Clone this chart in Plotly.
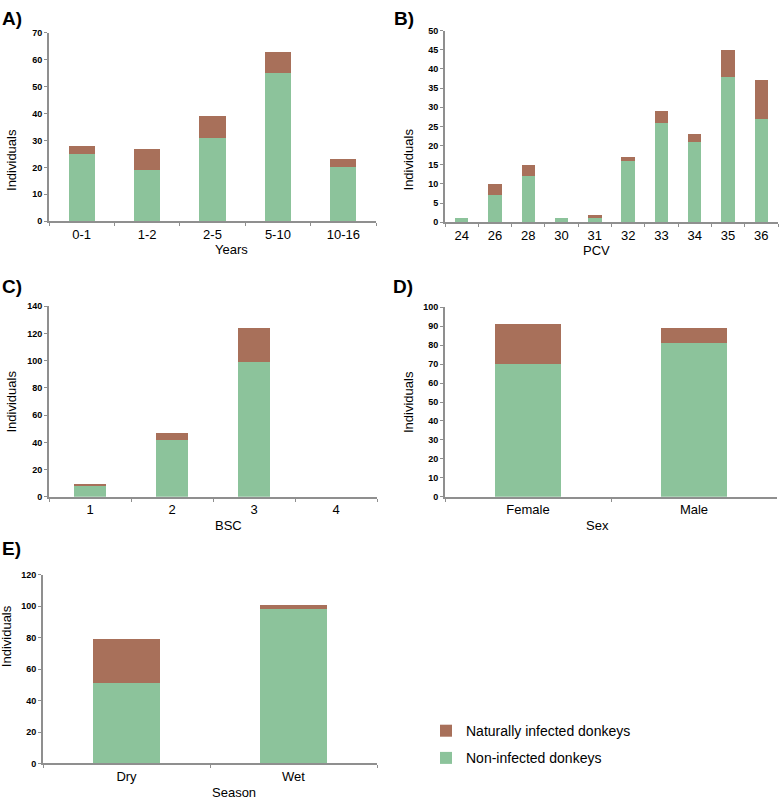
import plotly.graph_objects as go

# panel data: non-infected (green, bottom) and naturally infected (brown, top)
years = ["0-1", "1-2", "2-5", "5-10", "10-16"]
years_non = [25, 19, 31, 55, 20]
years_inf = [3, 8, 8, 8, 3]

pcv = ["24", "26", "28", "30", "31", "32", "33", "34", "35", "36"]
pcv_non = [1, 7, 12, 1, 1, 16, 26, 21, 38, 27]
pcv_inf = [0, 3, 3, 0, 1, 1, 3, 2, 7, 10]

bsc = ["1", "2", "3", "4"]
bsc_non = [8, 42, 99, 0]
bsc_inf = [1, 5, 25, 0]

sex = ["Female", "Male"]
sex_non = [70, 81]
sex_inf = [21, 8]

season = ["Dry", "Wet"]
season_non = [51, 98]
season_inf = [28, 3]

GREEN = "#8cc39b"
BROWN = "#a8705a"
AXIS = "#8f8f8f"
FONT = "Liberation Sans Narrow, Arial Narrow, Liberation Sans, Arial, sans-serif"
W, H = 779, 808

# name, cats, non, inf, ymax, dtick, x-domain px, y-domain px (top, bottom), xtitle
panels = [
    ("A)", years, years_non, years_inf, 70, 10, (49, 376), (28, 219), "Years"),
    ("B)", pcv, pcv_non, pcv_inf, 50, 5, (445, 778), (26, 220), "PCV"),
    ("C)", bsc, bsc_non, bsc_inf, 140, 20, (49, 377), (305, 498), "BSC"),
    ("D)", sex, sex_non, sex_inf, 100, 10, (445, 777), (306, 498), "Sex"),
    ("E)", season, season_non, season_inf, 120, 20, (43, 377), (577, 768), "Season"),
]

fig = go.Figure()
annotations = []
label_pos = {"A)": (0, 14), "B)": (392, 14), "C)": (0, 285), "D)": (391, 285), "E)": (0, 550)}

for i, (lab, cats, non, inf, ymax, dt, (x0, x1), (yt, yb), xt) in enumerate(panels):
    n = i + 1
    xa = "x" if n == 1 else f"x{n}"
    ya = "y" if n == 1 else f"y{n}"
    fig.add_trace(go.Bar(x=cats, y=non, name="Non-infected donkeys", marker_color=GREEN,
                         width=0.4, xaxis=xa, yaxis=ya, showlegend=(n == 1),
                         legendgroup="non", legendrank=2, marker_line_width=0))
    fig.add_trace(go.Bar(x=cats, y=inf, name="Naturally infected donkeys", marker_color=BROWN,
                         width=0.4, xaxis=xa, yaxis=ya, showlegend=(n == 1),
                         legendgroup="inf", legendrank=1, marker_line_width=0))
    xkey = "xaxis" if n == 1 else f"xaxis{n}"
    ykey = "yaxis" if n == 1 else f"yaxis{n}"
    fig.update_layout({
        xkey: dict(domain=[x0 / W, x1 / W], anchor=ya, type="category",
                   range=[-0.5, len(cats) - 0.5], showline=True, linecolor=AXIS, linewidth=2,
                   ticks="outside", tickson="boundaries", ticklen=3, tickcolor=AXIS,
                   tickfont=dict(size=13, color="black", family=FONT), showgrid=False),
        ykey: dict(domain=[1 - yb / H, 1 - yt / H], anchor=xa, range=[0, ymax], dtick=dt,
                   showline=True, linecolor=AXIS, linewidth=2, ticks="outside", ticklen=3,
                   tickcolor=AXIS, showgrid=False, zeroline=False,
                   tickfont=dict(size=9, color="black", family=FONT, weight="bold")),
    })
    # axis titles
    annotations.append(dict(text=xt, x=(x0 + x1) / 2 / W, y=1 - (yb + 29) / H, xref="paper",
                            yref="paper", showarrow=False, yanchor="middle",
                            font=dict(size=13, family=FONT, color="black")))
    annotations.append(dict(text="Individuals", x=(x0 - 37) / W, y=1 - (yt + yb) / 2 / H,
                            xref="paper", yref="paper", showarrow=False, textangle=-90,
                            xanchor="center", font=dict(size=13, family=FONT, color="black")))
    lx, ly = label_pos[lab]
    annotations.append(dict(text=f"<b>{lab}</b>", x=lx / W, y=1 - ly / H, xref="paper",
                            yref="paper", showarrow=False, xanchor="left", yanchor="middle",
                            font=dict(size=19, family="Liberation Sans, Arial", color="black")))

fig.update_layout(
    width=W, height=H, margin=dict(l=0, r=0, t=0, b=0),
    plot_bgcolor="white", paper_bgcolor="white", barmode="stack", bargap=0.6,
    annotations=annotations,
    legend=dict(x=426 / W, y=1 - 719 / H, xanchor="left", yanchor="top",
                traceorder="grouped", font=dict(size=14, family=FONT, color="black"),
                itemwidth=30, tracegroupgap=6),
)

fig.write_html("out.html", config={"displayModeBar": False},
               post_script="document.body.style.margin='0';")
